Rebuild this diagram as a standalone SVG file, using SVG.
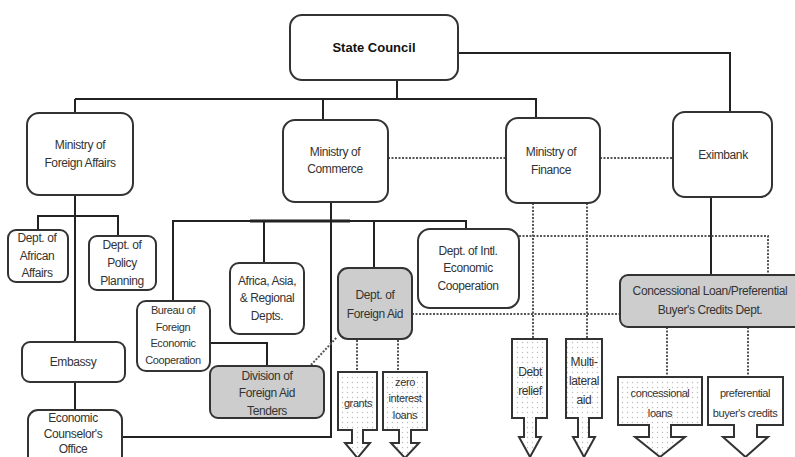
<svg xmlns="http://www.w3.org/2000/svg" width="795" height="457" viewBox="0 0 795 457">
<defs>
<pattern id="dots" width="5" height="5" patternUnits="userSpaceOnUse">
<rect width="5" height="5" fill="#fff"/>
<circle cx="2.5" cy="2.5" r="0.7" fill="#bbb"/>
</pattern>
<style>
.box{fill:#fff;stroke:#333;stroke-width:2}
.gray{fill:#cdcdcd;stroke:#333;stroke-width:2}
.arr{fill:url(#dots);stroke:#333;stroke-width:2;stroke-linejoin:miter}
.arrw{fill:#fff;stroke:#333;stroke-width:2}
.ln{fill:none;stroke:#222;stroke-width:2}
.dt{fill:none;stroke:#555;stroke-width:2;stroke-dasharray:2 1.5}
text{font-family:"Liberation Sans",Arial,sans-serif;font-size:12px;fill:#333;text-anchor:middle;letter-spacing:-0.4px}
.b{font-weight:bold;font-size:13px;fill:#111;letter-spacing:0}
.s{font-size:11px}
</style>
</defs>
<g id="connectors">
<path class="ln" d="M458,53 H730 V112"/>
<path class="ln" d="M397,80 V99 M75,99 H536 V118 M75,99 V113 M323,99 V120"/>
<path class="ln" d="M75,195 V342 M38,230 V216 H118 V236"/>
<path class="ln" d="M75,382 V410"/>
<path class="ln" d="M331,202 V437 H122"/>
<path class="ln" d="M173,301 V221 H466 V229 M264,221 V263 M374,221 V268"/>
<path class="ln" d="M250,221 H350" style="stroke-width:3"/>
<path class="ln" d="M210,343 H267 V366"/>
<path class="ln" d="M711,197 V275"/>
<path class="dt" d="M388,158 H506 M600,158 H673"/>
<path class="dt" d="M533,203 V339 M587,203 V339"/>
<path class="dt" d="M519,236 H768 V275"/>
<path class="dt" d="M412,314 H620"/>
<path class="dt" d="M311,365 L337,337"/>
<path class="dt" d="M357,340 V372 M398,340 V372"/>
<path class="dt" d="M667,327 V377 M748,327 V377"/>
</g>
<g id="state-council"><rect class="box" x="290" y="15" width="168" height="65" rx="12"/><text class="b" x="374" y="52">State Council</text></g>
<g id="mfa"><rect class="box" x="27" y="113" width="106" height="82" rx="12"/><text x="80" y="149">Ministry of</text><text x="80" y="167">Foreign Affairs</text></g>
<g id="moc"><rect class="box" x="283" y="120" width="105" height="82" rx="12"/><text x="335" y="156">Ministry of</text><text x="335" y="173">Commerce</text></g>
<g id="mof"><rect class="box" x="506" y="118" width="94" height="85" rx="12"/><text x="551" y="156">Ministry of</text><text x="551" y="174">Finance</text></g>
<g id="eximbank"><rect class="box" x="673" y="112" width="99" height="85" rx="12"/><text x="723" y="159">Eximbank</text></g>
<g id="dept-african"><rect class="box" x="8" y="230" width="60" height="52" rx="8"/><text x="37" y="242">Dept. of</text><text x="37" y="260">African</text><text x="37" y="277">Affairs</text></g>
<g id="dept-policy"><rect class="box" x="89" y="236" width="67" height="54" rx="8"/><text x="122" y="249">Dept. of</text><text x="122" y="267">Policy</text><text x="122" y="285">Planning</text></g>
<g id="embassy"><rect class="box" x="22" y="342" width="103" height="40" rx="8"/><text x="73" y="366">Embassy</text></g>
<g id="econ-counselor"><rect class="box" x="28" y="410" width="94" height="60" rx="10"/><text x="73" y="422">Economic</text><text x="73" y="438">Counselor's</text><text x="73" y="453">Office</text></g>
<g id="bureau"><rect class="box" x="137" y="301" width="73" height="70" rx="9"/><text class="s" x="173" y="314">Bureau of</text><text class="s" x="173" y="331">Foreign</text><text class="s" x="173" y="347">Economic</text><text class="s" x="173" y="364">Cooperation</text></g>
<g id="africa-asia"><rect class="box" x="230" y="263" width="74" height="71" rx="9"/><text x="267" y="285">Africa, Asia,</text><text x="267" y="302">&amp; Regional</text><text x="267" y="320">Depts.</text></g>
<g id="foreign-aid"><rect class="gray" x="338" y="268" width="74" height="71" rx="10"/><text x="375" y="299">Dept. of</text><text x="375" y="318">Foreign Aid</text></g>
<g id="intl-econ"><rect class="box" x="418" y="229" width="101" height="79" rx="12"/><text x="468" y="255">Dept. of Intl.</text><text x="468" y="272">Economic</text><text x="468" y="290">Cooperation</text></g>
<g id="division-tenders"><rect class="gray" x="210" y="366" width="114" height="52" rx="8"/><text x="267" y="380">Division of</text><text x="267" y="397">Foreign Aid</text><text x="267" y="415">Tenders</text></g>
<g id="concessional-dept"><rect class="gray" x="620" y="275" width="190" height="52" rx="8"/><text x="710" y="295">Concessional Loan/Preferential</text><text x="710" y="314">Buyer's Credits Dept.</text></g>
<g id="grants"><polygon class="arr" points="338,372 377,372 377,430 363,430 363,443 370,443 357.5,458 345,443 352,443 352,430 338,430"/><text class="s" x="358" y="407">grants</text></g>
<g id="zero-interest"><polygon class="arr" points="383,372 427,372 427,430 411,430 411,443 419,443 405,458 391,443 399,443 399,430 383,430"/><text class="s" x="405" y="386">zero</text><text class="s" x="405" y="402">interest</text><text class="s" x="405" y="419">loans</text></g>
<g id="debt-relief"><polygon class="arr" points="512,339 547,339 547,418 536,418 536,437 541,437 530,457 519,437 524,437 524,418 512,418"/><text x="530" y="376">Debt</text><text x="530" y="395">relief</text></g>
<g id="multilateral"><polygon class="arr" points="566,339 602,339 602,418 589,418 589,437 595,437 584,457 573,437 578,437 578,418 566,418"/><text x="584" y="366">Multi-</text><text x="584" y="385">lateral</text><text x="584" y="404">aid</text></g>
<g id="concessional-loans"><polygon class="arr" points="618,377 702,377 702,425 671,425 671,437 685,437 660,457 635,437 649,437 649,425 618,425"/><text class="s" x="660" y="397">concessional</text><text class="s" x="660" y="417">loans</text></g>
<g id="preferential"><polygon class="arrw" points="708,377 783,377 783,425 757,425 757,437 768,437 745.5,457 723,437 734,437 734,425 708,425"/><text class="s" x="745" y="397">preferential</text><text class="s" x="745" y="417">buyer's credits</text></g>
</svg>
